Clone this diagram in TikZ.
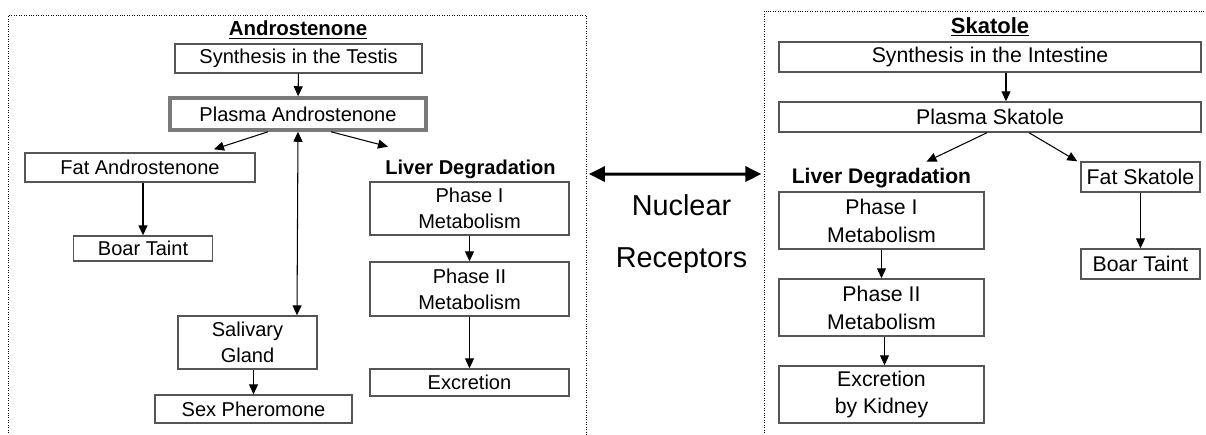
\documentclass[tikz,border=0pt]{standalone}
\usepackage{fontspec}
\setmainfont{Liberation Sans}
\usetikzlibrary{arrows.meta,positioning}
\definecolor{boxgray}{HTML}{555555}
\definecolor{plasmagray}{HTML}{7A7A7A}

\begin{document}
\begin{tikzpicture}[
  box/.style={draw=boxgray, line width=0.8pt, rectangle, align=center, inner sep=0pt, font=\fontsize{11.4}{14.8}\selectfont},
  boxS/.style={box, font=\fontsize{12.1}{15.9}\selectfont},
  hdr/.style={inner sep=0pt, minimum height=0.5cm, font=\bfseries\fontsize{11.4}{13}\selectfont},
  hdrS/.style={hdr, font=\bfseries\fontsize{12}{14}\selectfont},
  panel/.style={draw, densely dotted, thin, rectangle},
  arr/.style={-{Triangle[length=0.2cm, width=0.18cm]}, line width=0.6pt},
  arr2/.style={{Triangle[length=0.2cm, width=0.18cm]}-{Triangle[length=0.2cm, width=0.18cm]}, line width=0.6pt},
  biarr/.style={{Triangle[length=0.32cm, width=0.30cm]}-{Triangle[length=0.32cm, width=0.30cm]}, line width=1.7pt, shorten <=0.05cm, shorten >=0.05cm}
]
  \useasboundingbox (0,0) rectangle (24.12,-8.68);
  \clip (0,0) rectangle (24.12,-8.68);

  % dotted panels, open at the bottom
  \node[panel, minimum width=11.55cm, minimum height=9.10cm] (frameA) at (5.945,-4.85) {};
  \node[panel, minimum width=9.01cm, minimum height=9.18cm]  (frameS) at (19.79,-4.81) {};

  % androstenone side
  \node[font=\bfseries\fontsize{11.6}{13}\selectfont] (titleA) at (5.96,-0.60) {\underline{Androstenone}};
  \node[box, minimum width=4.94cm, minimum height=0.58cm] (synA)  at (5.97,-1.17) {Synthesis in the Testis};
  \node[box, draw=plasmagray, line width=2pt, minimum width=5.12cm, minimum height=0.64cm] (plasA) at (5.96,-2.28) {Plasma Androstenone};
  \node[box, minimum width=4.60cm, minimum height=0.58cm] (fatA)  at (2.80,-3.35) {Fat Androstenone};
  \node[hdr] (livA) at (9.41,-3.38) {Liver Degradation};
  \node[box, minimum width=3.98cm, minimum height=1.06cm] (ph1A)  at (9.39,-4.17) {Phase I\\Metabolism};
  \node[box, minimum width=2.79cm, minimum height=0.50cm] (boarA) at (2.86,-4.97) {Boar Taint};
  \node[box, minimum width=3.98cm, minimum height=1.08cm] (ph2A)  at (9.39,-5.78) {Phase II\\Metabolism};
  \node[box, minimum width=2.78cm, minimum height=1.06cm] (salA)  at (4.95,-6.85) {Salivary\\Gland};
  \node[box, minimum width=3.94cm, minimum height=0.56cm] (sexA)  at (5.07,-8.18) {Sex Pheromone};
  \node[box, minimum width=3.98cm, minimum height=0.54cm] (excA)  at (9.39,-7.65) {Excretion};

  % skatole side
  \node[font=\bfseries\fontsize{12.5}{14}\selectfont] (titleS) at (19.80,-0.54) {\underline{Skatole}};
  \node[boxS, minimum width=8.44cm, minimum height=0.60cm] (synS)  at (19.80,-1.14) {Synthesis in the Intestine};
  \node[boxS, minimum width=8.44cm, minimum height=0.60cm] (plasS) at (19.80,-2.34) {Plasma Skatole};
  \node[hdrS] (livS) at (17.63,-3.56) {Liver Degradation};
  \node[boxS, minimum width=2.38cm, minimum height=0.60cm] (fatS)  at (22.81,-3.54) {Fat Skatole};
  \node[boxS, minimum width=4.10cm, minimum height=1.14cm] (ph1S)  at (17.63,-4.41) {Phase I\\Metabolism};
  \node[boxS, minimum width=2.38cm, minimum height=0.60cm] (boarS) at (22.81,-5.28) {Boar Taint};
  \node[boxS, minimum width=4.10cm, minimum height=1.14cm] (ph2S)  at (17.63,-6.15) {Phase II\\Metabolism};
  \node[boxS, minimum width=4.10cm, minimum height=1.14cm] (excS)  at (17.63,-7.89) {Excretion\\by Kidney};

  % middle
  \node[font=\fontsize{16.4}{29.6}\selectfont, align=center] (nr) at (13.63,-4.68) {Nuclear\\Receptors};
  \draw[biarr] ([yshift=1.37cm]frameA.east) -- ([yshift=1.33cm]frameS.west);

  \draw[arr] (synA) -- (plasA);
  \draw[arr] ([xshift=-0.6cm]plasA.south) -- ([xshift=1.48cm,yshift=0.06cm]fatA.north);
  \draw[arr] ([xshift=0.66cm]plasA.south) -- ([xshift=-1.65cm,yshift=0.19cm]livA.north);
  \draw[arr2] (plasA.south) -- ([xshift=0.99cm]salA.north);
  \draw[arr] (fatA.south -| boarA.north) -- (boarA.north);
  \draw[arr] (ph1A) -- (ph2A);
  \draw[arr] (ph2A) -- (excA);
  \draw[arr] (salA.south -| sexA.north) -- (sexA.north);

  \draw[arr] ([xshift=0.32cm]synS.south) -- ([xshift=0.32cm]plasS.north);
  \draw[arr] ([xshift=-0.06cm]plasS.south) -- ([xshift=0.9cm,yshift=0.07cm]livS.north);
  \draw[arr] ([xshift=0.78cm]plasS.south) -- ([xshift=-0.06cm]fatS.north west);
  \draw[arr] (fatS) -- (boarS);
  \draw[arr] (ph1S) -- (ph2S);
  \draw[arr] ([xshift=0.06cm]ph2S.south) -- ([xshift=0.06cm]excS.north);
\end{tikzpicture}
\end{document}
